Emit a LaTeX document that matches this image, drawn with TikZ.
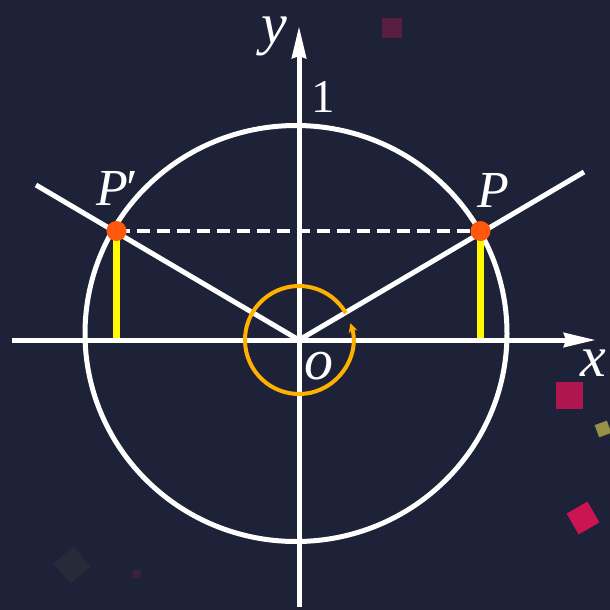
\documentclass[tikz,border=0pt]{standalone}
\usepackage{fontspec}
\setmainfont{Liberation Serif}
\usetikzlibrary{arrows.meta,calc}
\definecolor{bg}{RGB}{29,34,56}
\definecolor{amber}{RGB}{255,176,0}
\definecolor{dotc}{RGB}{255,88,12}
\definecolor{yel}{RGB}{255,250,0}
\definecolor{crim}{RGB}{176,22,78}
\definecolor{crim2}{RGB}{205,20,82}
\definecolor{olive}{RGB}{150,145,70}
\begin{document}
\begin{tikzpicture}[x=1pt,y=1pt,
  axis/.style={draw=white,line width=5pt,-{Stealth[length=32pt,width=14pt,inset=2pt]}},
  wline/.style={draw=white,line width=5pt},
  yline/.style={draw=yel,line width=7pt},
  dotnode/.style={circle,fill=dotc,inner sep=0pt,minimum size=20pt},
  lab/.style={text=white,inner sep=0pt,font=\fontsize{58}{58}\selectfont\itshape},
  conf/.style={inner sep=0pt,draw=none}]
\fill[bg] (0,0) rectangle (610,-610);
\useasboundingbox (0,0) rectangle (610,-610);
% confetti
\node[conf,fill=crim,minimum size=27pt] (c1) at (569,-395) {};
\node[conf,fill=olive,minimum size=13pt,rotate=20] (c2) at (603,-429) {};
\node[conf,fill=crim2,minimum size=24pt,rotate=30] (c3) at (583,-518) {};
\node[conf,fill=crim!40!bg,minimum size=20pt] (c4) at (392,-28) {};
\node[conf,fill=olive!8!bg,minimum size=26pt,rotate=40] (c5) at (72,-565) {};
\node[conf,fill=crim!20!bg,minimum size=8pt] (c6) at (137,-574) {};
% coordinates
\coordinate (O) at (299,-340);
\coordinate (C) at (296,-333.5);
\coordinate (xs) at (12,-340);
\coordinate (xe) at (596,-340);
\coordinate (ys) at (299,-607);
\coordinate (ye) at (299,-26);
\coordinate (R1) at (584,-172);
\coordinate (R2) at (36,-185);
\coordinate (Pc) at (480.5,-231);
\coordinate (Ppc) at (116.5,-231);
\coordinate (Pf) at (Pc |- O);
\coordinate (Ppf) at (Ppc |- O);
% unit circle
\draw[wline] (C) ellipse[x radius=211,y radius=208];
% axes
\draw[axis] (xs) -- (xe);
\draw[axis] (ys) -- (ye);
% rays
\draw[wline] (O) -- (R1);
\draw[wline] (O) -- (R2);
% yellow
\draw[yline] (Pc) -- ($(Pf)+(0,2.5)$);
\draw[yline] (Ppc) -- ($(Ppf)+(0,2.5)$);
% dashed
\draw[draw=white,line width=4pt,dash pattern=on 13pt off 7pt] (Ppc) -- (Pc);
% rotation arc
\draw[draw=amber,line width=4pt,-{Stealth[length=9pt,width=9pt]}] ($(O)+(30:54)$) arc[start angle=30,end angle=378,radius=54];
% points
\node[dotnode] (P) at (Pc) {};
\node[dotnode] (Pp) at (Ppc) {};
% labels
\node[lab] (ly) at (274,-36) {y};
\node[lab] (lx) at (593,-363) {x};
\node[lab] (lo) at (319,-366) {o};
\node[lab,font=\fontsize{47}{47}\selectfont] (l1) at (323,-97) {1};
\node[lab,font=\fontsize{52}{52}\selectfont\itshape] (lP) at (493,-190) {P};
\node[lab,font=\fontsize{52}{52}\selectfont\itshape] (lPp) at (116,-188) {P\kern-5pt′};
\end{tikzpicture}
\end{document}
